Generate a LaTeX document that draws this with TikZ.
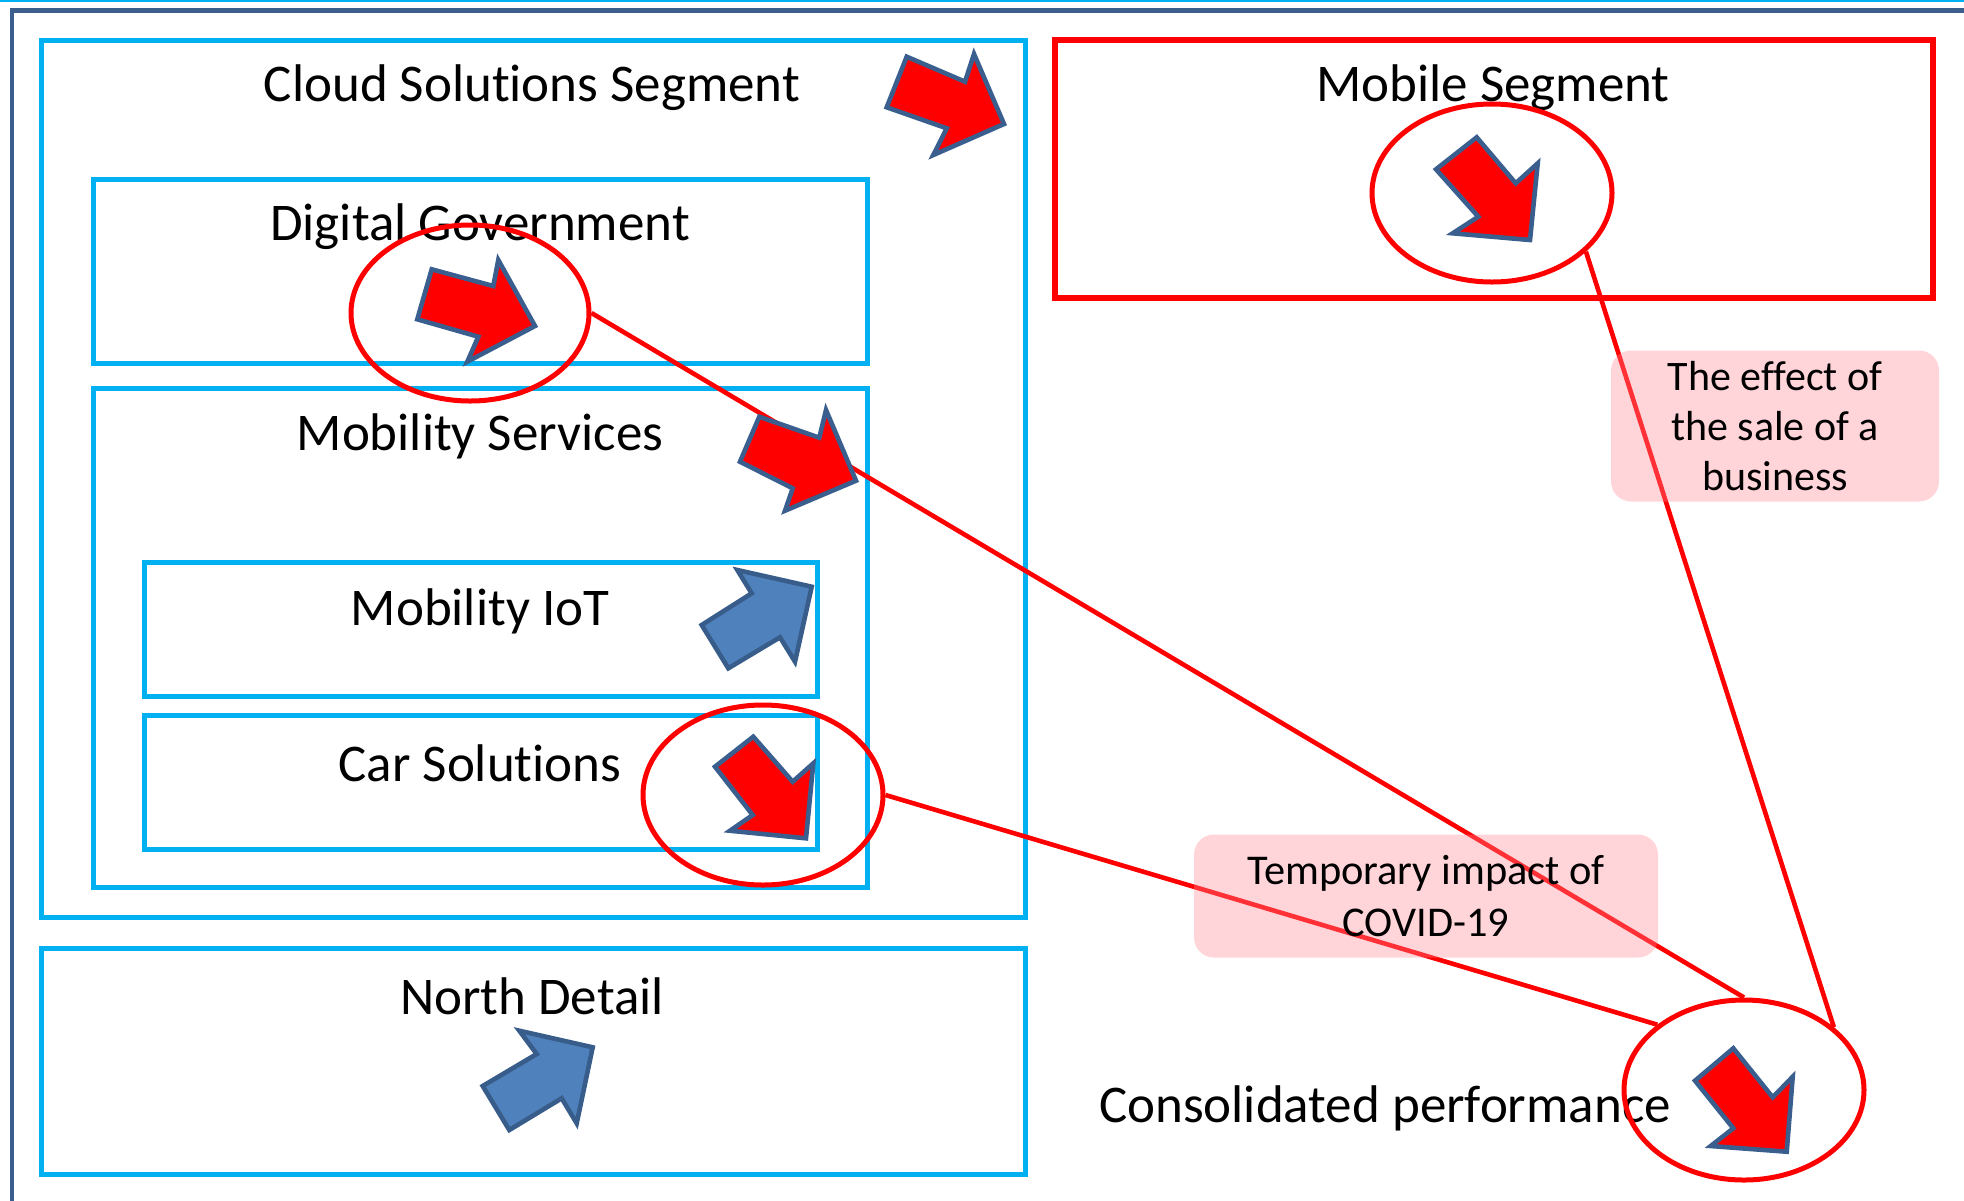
\documentclass[tikz,border=0pt]{standalone}
\usepackage{fontspec}
\setmainfont{Carlito}[Ligatures=NoCommon]
\usetikzlibrary{shapes.geometric}
\definecolor{frameblue}{HTML}{3B5E8C}
\definecolor{segcyan}{HTML}{00B0F0}
\definecolor{hotred}{HTML}{FF0000}
\definecolor{arrowedge}{HTML}{3A5F8F}
\definecolor{bluefill}{HTML}{4F81BD}
\definecolor{blueedge}{HTML}{385D8A}
\definecolor{notepink}{RGB}{255,138,150}
\tikzset{
  segbox/.style={draw=segcyan, line width=2.5pt},
  redbox/.style={draw=hotred, line width=2.6pt},
  label/.style={font=\fontsize{26.5}{32}\selectfont, inner sep=0pt},
  ring/.style={ellipse, draw=hotred, line width=2.5pt, inner sep=0pt},
  link/.style={draw=hotred, line width=2.3pt},
  downarrow/.style={fill=hotred, draw=arrowedge, line width=2.3pt, line join=miter},
  uparrow/.style={fill=bluefill, draw=blueedge, line width=2.3pt, line join=miter},
  note/.style={rounded corners=10pt, fill=notepink, fill opacity=0.36, text opacity=1,
    align=center, inner sep=0pt}
}
\begin{document}
\begin{tikzpicture}[x=0.5pt, y=-0.5pt]
\useasboundingbox (0,0) rectangle (1964,1200);
% outer frame
\draw[segcyan, line width=1pt] (0,1) -- (1964,1);
\draw[frameblue, line width=2.3pt] (12,1205) -- (12,10.5) -- (1970,10.5);

% segment boxes
\draw[segbox] (41,40) rectangle (1025,917);
\draw[redbox] (1055,40) rectangle (1933,298);
\draw[segbox] (93,179) rectangle (867,363);
\draw[segbox] (93,388) rectangle (867,887);
\draw[segbox] (144,562) rectangle (817,696);
\draw[segbox] (144,715) rectangle (817,849);
\draw[segbox] (41,948) rectangle (1025,1174);

% segment titles
\node[label] (cloudT) at (532,88) {Cloud Solutions Segment};
\node[label] (mobileT) at (1493,88) {Mobile Segment};
\node[label] (dgT) at (480,227) {Digital Government};
\node[label] (msT) at (480,436) {Mobility Services};
\node[label] (iotT) at (480,611) {Mobility IoT};
\node[label] (carT) at (480,763) {Car Solutions};
\node[label] (northT) at (532,996) {North Detail};
\node[label] (consT) at (1385,1108) {Consolidated performance};

% highlight rings
\node[ring, minimum width=119pt, minimum height=88pt] (dgE) at (470,313) {};
\node[ring, minimum width=120pt, minimum height=89pt] (mobE) at (1492,193) {};
\node[ring, minimum width=120pt, minimum height=90pt] (carE) at (763,795) {};
\node[ring, minimum width=120pt, minimum height=90pt] (consE) at (1744,1090) {};

% links into consolidated performance
\draw[link] (dgE.east) -- (consE.north);
\draw[link] (carE.east) -- (consE.143);
\draw[link] (mobE.-32) -- (consE.35);

% trend arrows
\draw[downarrow] (906.7,56.7) -- (965,81.7) -- (974,54) -- (1004,124) -- (933.3,155) -- (946.7,128.3) -- (886.7,107.3) -- cycle;
\draw[downarrow] (1476.7,137.3) -- (1515.7,183.3) -- (1537.7,163.3) -- (1530,240) -- (1452.7,233.3) -- (1478.3,216.7) -- (1436,169.3) -- cycle;
\draw[downarrow] (431.7,269.3) -- (493.3,286) -- (498.3,260) -- (535,326) -- (467.3,361.7) -- (478.3,336.7) -- (417.3,319.3) -- cycle;
\draw[downarrow] (759.3,416.7) -- (819.3,437.7) -- (826,410) -- (856,480.7) -- (785,510.7) -- (792.7,488.3) -- (740,461.7) -- cycle;
\draw[uparrow] (701.7,625) -- (751.7,593.3) -- (737.3,570) -- (811.7,586.7) -- (795,661.7) -- (780,637.3) -- (728.3,668.3) -- cycle;
\draw[downarrow] (753.3,736.7) -- (792.7,781.7) -- (813.3,763.3) -- (806,838.3) -- (730,830.7) -- (752.7,815) -- (715,766.7) -- cycle;
\draw[uparrow] (482.7,1086) -- (536.7,1054) -- (519.3,1030.7) -- (592.7,1047.3) -- (576.7,1123.3) -- (561.7,1098.3) -- (509.3,1130) -- cycle;
\draw[downarrow] (1733.3,1048.3) -- (1772.7,1097.3) -- (1792.7,1076.7) -- (1786.7,1151.7) -- (1710.7,1146) -- (1733.3,1128.3) -- (1695,1080.7) -- cycle;

% notes
\node[note, minimum width=164pt, minimum height=75.5pt,
  font=\fontsize{21}{25}\selectfont] (saleN) at (1775,426)
  {The effect of\\the sale of a\\business};
\node[note, minimum width=232pt, minimum height=61.5pt,
  font=\fontsize{21.2}{26}\selectfont] (covidN) at (1426,896)
  {Temporary impact of\\COVID-19};
\end{tikzpicture}
\end{document}
